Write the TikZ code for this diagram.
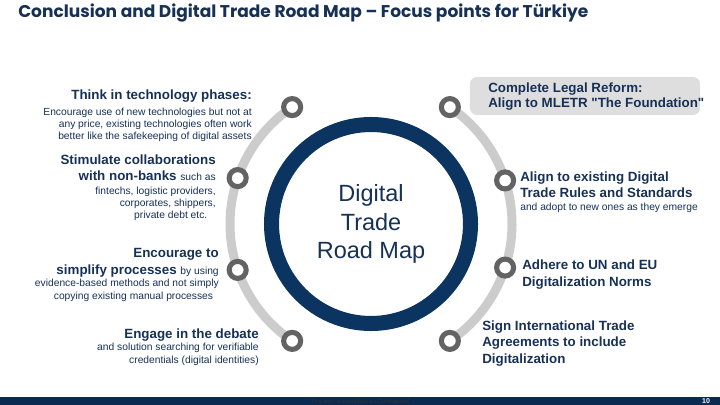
\documentclass[tikz,border=0pt]{standalone}
\usepackage{fontspec}
\setmainfont{Liberation Sans}
\newfontfamily\quotefont{Liberation Sans}
\newfontfamily\titlefont{Poppins}
\usetikzlibrary{positioning}
\definecolor{navy}{RGB}{12,52,96}
\definecolor{navytext}{RGB}{22,48,86}
\definecolor{trackgray}{RGB}{204,204,204}
\definecolor{ringgray}{RGB}{99,99,99}
\definecolor{boxgray}{RGB}{222,222,222}
\definecolor{footnavy}{RGB}{10,42,82}

\begin{document}
\begin{tikzpicture}[
  x=0.025cm, y=-0.025cm,
  milestone/.style={circle, draw=ringgray, line width=3.6pt, fill=white,
                    minimum size=12.1pt, inner sep=0pt},
  headtxt/.style={inner sep=0pt, text=navytext,
                  font=\fontsize{9.5}{11.6}\selectfont\bfseries},
  bodytxt/.style={inner sep=0pt, text=navytext,
                  font=\fontsize{7.3}{8.8}\selectfont},
  lefttxt/.style={anchor=base east, align=right},
  righttxt/.style={anchor=base west, align=left},
  track/.style={trackgray, line width=6.4pt}
]
  \useasboundingbox (0,0) rectangle (720,405);

  % title
  \node[anchor=base west, inner sep=0pt, text=navytext,
        font=\titlefont\bfseries\fontsize{12.1}{14}\selectfont] (title) at (18,18)
    {Conclusion and Digital Trade Road Map – Focus points for Türkiye};

  % centre ring
  \node[circle, draw=navy, line width=10.7pt, minimum size=141.5pt, inner sep=0pt,
        align=center, text=navytext, font=\fontsize{16.7}{20.3}\selectfont]
    (hub) at (371,224) {Digital\\Trade\\Road Map};

  % grey tracks with the stops
  \draw[track] (hub.center) ++(124:141) arc[start angle=124, end angle=236, radius=141];
  \draw[track] (hub.center) ++(-56:141) arc[start angle=-56, end angle=56, radius=141];
  \foreach \a/\n in {236/l1, 199/l2, 161/l3, 124/l4, 304/r1, 342/r2, 18/r3, 56/r4}
    \path (hub.center) ++(\a:141) node[milestone] (\n) {};

  % left side (base = last line)
  \node[headtxt, lefttxt] (phases) at (252,100) {Think in technology phases:};
  \node[bodytxt, lefttxt] (phasesb) at (252,140)
    {Encourage use of new technologies but not at\\any price, existing technologies often work\\better like the safekeeping of digital assets};

  \node[headtxt, lefttxt] (collab) at (216,181)
    {Stimulate collaborations\\with non-banks {\fontsize{7.3}{8.8}\selectfont\mdseries such as}};
  \node[bodytxt, lefttxt] (collabb) at (216,219)
    {fintechs, logistic providers,\\corporates, shippers,\\private debt etc.\hspace*{6pt}};

  \node[headtxt, lefttxt] (simplify) at (219,274)
    {Encourage to\\simplify processes {\fontsize{7.3}{8.8}\selectfont\mdseries by using}};
  \node[bodytxt, lefttxt] (simplifyb) at (219,299)
    {evidence-based methods and not simply\\copying existing manual processes\hspace*{4pt}};

  \node[headtxt, lefttxt] (debate) at (259,338) {Engage in the debate};
  \node[bodytxt, lefttxt] (debateb) at (259,363)
    {and solution searching for verifiable\\credentials (digital identities)};

  % right side
  \node[fill=boxgray, rounded corners=5pt, minimum width=163.6pt,
        minimum height=27pt, inner sep=0pt] (legalbox) at (585,96) {};
  \node[headtxt, righttxt, font=\fontsize{9.5}{10.7}\selectfont\bfseries] (legal) at (488,108)
    {Complete Legal Reform:\\Align to MLETR {\quotefont"}The Foundation{\quotefont"}};

  \node[headtxt, righttxt] (rules) at (520,198)
    {Align to existing Digital\\Trade Rules and Standards};
  \node[bodytxt, righttxt] (rulesb) at (520,211) {and adopt to new ones as they emerge};

  \node[headtxt, righttxt] (norms) at (522,286) {Adhere to UN and EU\\Digitalization Norms};

  \node[headtxt, righttxt] (agree) at (482,363)
    {Sign International Trade\\Agreements to include\\Digitalization};

  % footer
  \fill[footnavy] (0,397) rectangle (720,405);
  \node[inner sep=0pt, text=black!80, font=\fontsize{4.3}{5}\selectfont]
    (confid) at (360,401.5) {This item is classified as Confidential};
  \node[inner sep=0pt, text=white, font=\fontsize{5}{6}\selectfont\bfseries]
    (pageno) at (706,401.5) {10};
\end{tikzpicture}
\end{document}
